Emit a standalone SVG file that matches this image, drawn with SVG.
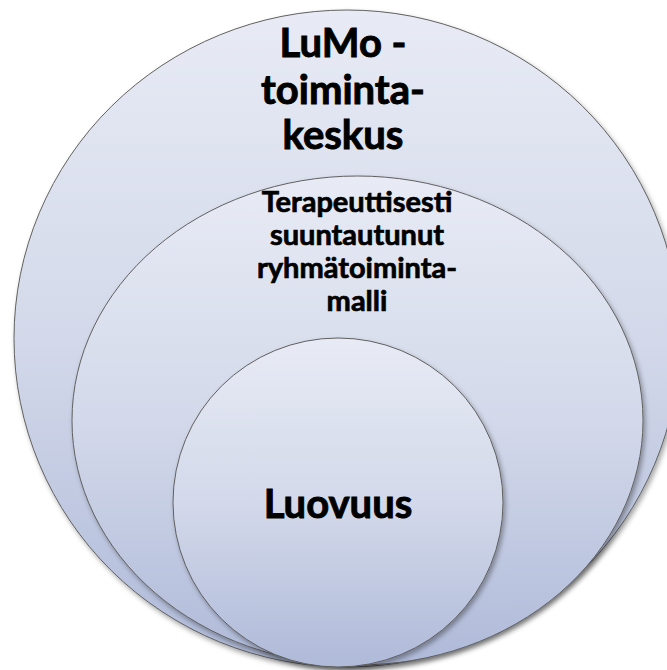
<svg xmlns="http://www.w3.org/2000/svg" width="667" height="670" viewBox="0 0 667 670">
  <defs>
    <linearGradient id="g" x1="0" y1="0" x2="0" y2="1">
      <stop offset="0" stop-color="#e8ebf5"/>
      <stop offset="0.5" stop-color="#d3d9ea"/>
      <stop offset="1" stop-color="#afbad9"/>
    </linearGradient>
    <filter id="sh" x="-10%" y="-10%" width="125%" height="125%">
      <feDropShadow dx="2" dy="3" stdDeviation="2.5" flood-color="#000" flood-opacity="0.35"/>
    </filter>
  </defs>
  <style>
    .shape { fill: url(#g); stroke: #606060; stroke-width: 1; filter: url(#sh); }
    .lbl { font-family: Lato, "Open Sans", "Liberation Sans", sans-serif; font-weight: bold; fill: #000; stroke: #000; stroke-width: 0.9; text-anchor: middle; }
    .big { font-size: 40px; }
    .mid { font-size: 29px; stroke-width: 0.7; }
  </style>
  <rect width="667" height="670" fill="#ffffff"/>
  <g id="outer">
    <ellipse class="shape" cx="347" cy="338.5" rx="333" ry="328.5"/>
    <text class="lbl big" x="343" y="57">LuMo -</text>
    <text class="lbl big" x="343" y="104">toiminta-</text>
    <text class="lbl big" x="343" y="149">keskus</text>
  </g>
  <g id="middle">
    <ellipse class="shape" cx="357.5" cy="420.5" rx="285.5" ry="244.5"/>
    <text class="lbl mid" x="357" y="212">Terapeuttisesti</text>
    <text class="lbl mid" x="357" y="245">suuntautunut</text>
    <text class="lbl mid" x="357" y="278">ryhmätoiminta-</text>
    <text class="lbl mid" x="357" y="311">malli</text>
  </g>
  <g id="inner">
    <ellipse class="shape" cx="338" cy="502.5" rx="165" ry="164.5"/>
    <text class="lbl big" x="338" y="518">Luovuus</text>
  </g>
</svg>
